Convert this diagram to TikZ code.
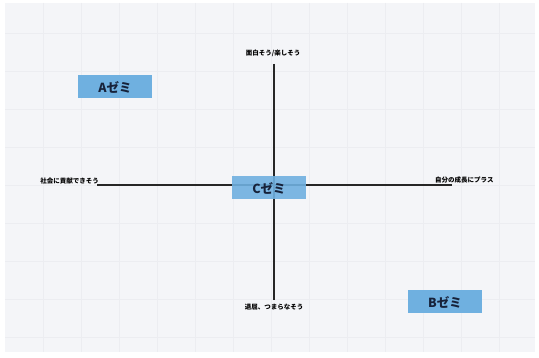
\documentclass[tikz,border=0pt]{standalone}
\usepackage{fontspec}
\newfontfamily\jp{Noto Sans CJK JP}
\definecolor{bgc}{HTML}{F4F5F8}
\definecolor{gridc}{HTML}{ECEDF1}
\definecolor{boxc}{HTML}{6FB0E0}
\definecolor{txtc}{HTML}{17223A}
\tikzset{
  x=1pt, y=-1pt,
  zemi/.style={fill=boxc, minimum width=74pt, minimum height=23pt, inner sep=0pt, font=\jp\bfseries\fontsize{12.5}{12.5}\selectfont, text=txtc},
  axislabel/.style={font=\jp\bfseries\fontsize{6.5}{6.5}\selectfont, text=black, inner sep=1pt},
  axis/.style={line width=1.6pt, draw=black!85}
}
\begin{document}
\begin{tikzpicture}
\useasboundingbox (0,0) rectangle (539,358);
\fill[white] (0,0) rectangle (539,358);
\fill[bgc] (5,3) rectangle (535,352);
\foreach \gx in {43,81,119,157,195,233,271,309,347,385,423,461,499}
  \draw[gridc, line width=0.4pt] (\gx,3) -- (\gx,352);
\foreach \gy in {33,71,109,147,185,223,261,299,337}
  \draw[gridc, line width=0.4pt] (5,\gy) -- (535,\gy);
% axes
\coordinate (top) at (274,64);
\coordinate (bot) at (274,300);
\coordinate (lft) at (97,185);
\coordinate (rgt) at (452,185);
\draw[axis] (top) -- (bot);
\draw[axis] (lft) -- (rgt);
% axis labels
\node[axislabel] (tl) at (273,53) {面白そう/楽しそう};
\node[axislabel] (bl) at (274,307) {退屈、つまらなそう};
\node[axislabel, anchor=east] (ll) at (100,181) {社会に貢献できそう};
\node[axislabel, anchor=west] (rl) at (434,180) {自分の成長にプラス};
% boxes
\node[zemi] (a) at (115,87) {Aゼミ};
\node[zemi, fill opacity=0.9, text opacity=1] (c) at (269,188) {Cゼミ};
\node[zemi] (b) at (445,302) {Bゼミ};
\end{tikzpicture}
\end{document}
